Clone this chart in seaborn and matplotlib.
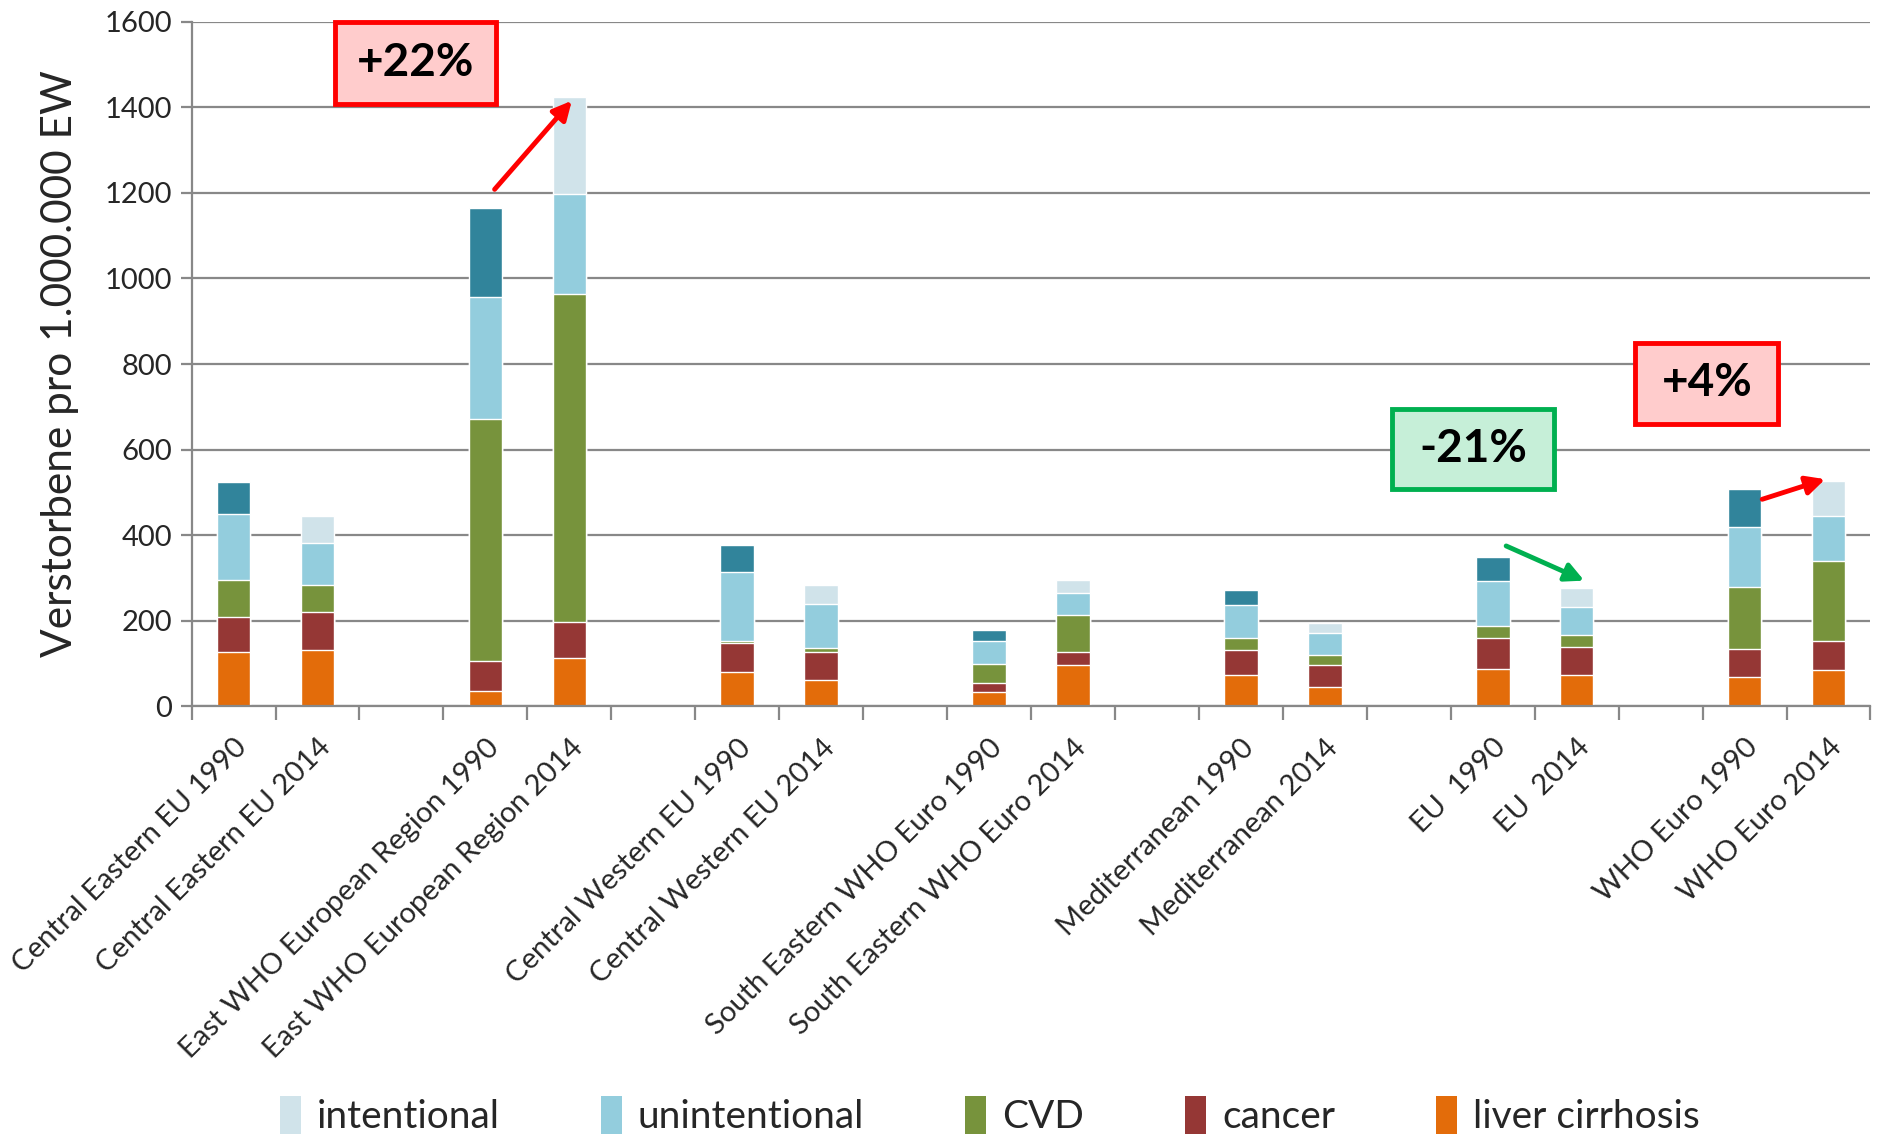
import numpy as np
import pandas as pd
import matplotlib
matplotlib.use("Agg")
import matplotlib.pyplot as plt
from matplotlib.patches import Patch, Rectangle
import seaborn as sns

# ---------------- data ----------------
labels = [
    "Central Eastern EU 1990", "Central Eastern EU 2014",
    "East WHO European Region 1990", "East WHO European Region 2014",
    "Central Western EU 1990", "Central Western EU 2014",
    "South Eastern WHO Euro 1990", "South Eastern WHO Euro 2014",
    "Mediterranean 1990", "Mediterranean 2014",
    "EU  1990", "EU  2014",
    "WHO Euro 1990", "WHO Euro 2014",
]
liver_cirrhosis = [127, 131, 35, 114, 81, 63, 33, 96, 73, 46, 87, 73, 69, 86]
cancer = [81, 89, 72, 83, 68, 65, 22, 32, 60, 52, 72, 67, 65, 67]
cvd = [87, 64, 565, 767, 5, 8, 45, 85, 28, 23, 28, 28, 145, 188]
unintentional = [155, 99, 284, 234, 159, 103, 54, 51, 77, 50, 105, 65, 140, 103]
intentional = [74, 62, 208, 226, 64, 44, 25, 32, 33, 25, 58, 43, 89, 83]
years = ["1990", "2014"] * 7

series_names = ["intentional", "unintentional", "CVD", "cancer", "liver cirrhosis"]
annotations = ["+22%", "-21%", "+4%"]

# ---------------- styling ----------------
col_liver = "#E36C0A"
col_cancer = "#953735"
col_cvd = "#77933C"
col_unint = "#93CDDD"
col_int_light = "#D0E3EA"
col_int_dark = "#31849B"
grid_col = "#888888"

sns.set_theme(style="white")
plt.rcParams["font.family"] = ["Lato", "DejaVu Sans"]

df = pd.DataFrame({
    "label": labels,
    "year": years,
    "liver": liver_cirrhosis,
    "cancer": cancer,
    "cvd": cvd,
    "unint": unintentional,
    "int": intentional,
})
df["c_liver"] = df["liver"]
df["c_cancer"] = df["c_liver"] + df["cancer"]
df["c_cvd"] = df["c_cancer"] + df["cvd"]
df["c_unint"] = df["c_cvd"] + df["unint"]
df["c_int"] = df["c_unint"] + df["int"]

# 20 slots: pairs of bars separated by empty slots
order = []
tick_text = []
gap = 0
for i in range(0, len(labels), 2):
    if i > 0:
        gap += 1
        order.append(" " * gap)
        tick_text.append("")
    order.extend([labels[i], labels[i + 1]])
    tick_text.extend([labels[i], labels[i + 1]])

fig = plt.figure(figsize=(18.78, 11.34), dpi=100)
ax = fig.add_axes([0.102, 0.377, 0.894, 0.604])

top_palette = {lab: (col_int_dark if yr == "1990" else col_int_light)
               for lab, yr in zip(labels, years)}

layers = [
    ("c_int", None),
    ("c_unint", col_unint),
    ("c_cvd", col_cvd),
    ("c_cancer", col_cancer),
    ("c_liver", col_liver),
]
for col, color in layers:
    if color is None:
        sns.barplot(data=df, x="label", y=col, hue="label", palette=top_palette,
                    order=order, hue_order=labels, width=0.4, legend=False,
                    saturation=1, ax=ax, zorder=2)
    else:
        sns.barplot(data=df, x="label", y=col, order=order, color=color,
                    width=0.4, saturation=1, ax=ax, zorder=2)

ax.set_xlim(-0.5, len(order) - 0.5)
ax.set_ylim(0, 1600)
ax.set_yticks(np.arange(0, 1601, 200))
ax.yaxis.grid(True, color=grid_col, linewidth=1.6, zorder=0)
ax.set_axisbelow(True)

for s in ["top", "right"]:
    ax.spines[s].set_visible(False)
for s in ["left", "bottom"]:
    ax.spines[s].set_color(grid_col)
    ax.spines[s].set_linewidth(1.6)

ax.set_xticks(range(len(order)))
ax.set_xticklabels(tick_text, rotation=45, ha="right", va="top",
                   rotation_mode="anchor", fontsize=21)
ax.tick_params(axis="x", which="major", length=0, pad=20)
ax.set_xticks(np.arange(-0.5, len(order), 1.0), minor=True)
ax.tick_params(axis="x", which="minor", length=10, width=1.6, color=grid_col,
               direction="out", bottom=True)
ax.tick_params(axis="y", length=8, width=1.6, color=grid_col, direction="out",
               left=True, labelsize=21, pad=6)

ax.set_xlabel("")
ax.set_ylabel("Verstorbene pro 1.000.000 EW", fontsize=30.5)
ax.yaxis.set_label_coords(-0.067, 0.5)

# ---------------- annotation boxes and arrows ----------------
boxes = [
    (1.21, 1407, 1.92, 193, "#FF0000", "#FFCCCC", annotations[0]),
    (13.8, 509, 1.93, 187, "#00B050", "#C6EFD8", annotations[1]),
    (16.7, 660, 1.70, 190, "#FF0000", "#FFCCCC", annotations[2]),
]
for x0, y0, w, h, ec, fc, txt in boxes:
    ax.add_patch(Rectangle((x0, y0), w, h, facecolor=fc, edgecolor=ec,
                           linewidth=3.5, zorder=5, clip_on=False))
    ax.text(x0 + w / 2, y0 + h / 2, txt, ha="center", va="center",
            fontsize=33, fontweight="bold", color="black", zorder=6)

arrows = [
    ((3.11, 1208), (4.03, 1415), "#FF0000"),
    ((15.16, 375), (16.09, 294), "#00B050"),
    ((18.21, 484), (18.96, 531), "#FF0000"),
]
for start, end, c in arrows:
    ax.annotate("", xy=end, xytext=start,
                arrowprops=dict(arrowstyle="-|>", color=c, lw=3.5,
                                mutation_scale=28, shrinkA=0, shrinkB=0),
                zorder=6)

# ---------------- legend ----------------
handles = [Patch(facecolor=c, edgecolor="none") for c in
           [col_int_light, col_unint, col_cvd, col_cancer, col_liver]]
fig.legend(handles, series_names, loc="center", bbox_to_anchor=(0.527, 0.016),
           ncol=5, frameon=False, fontsize=28, handlelength=0.55,
           handleheight=1.1, handletextpad=0.4, columnspacing=2.6)

fig.savefig("out.png", dpi=100)
